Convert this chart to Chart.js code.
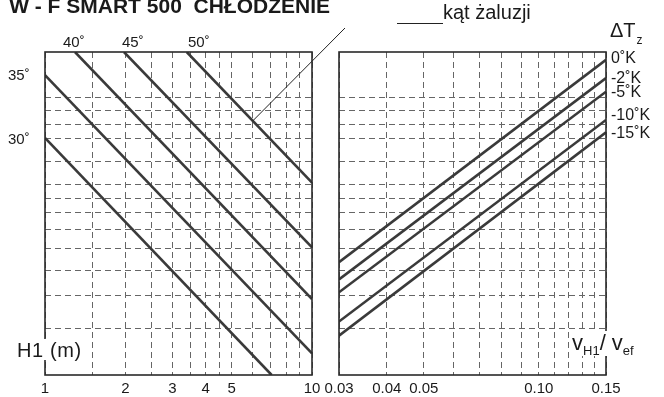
<!DOCTYPE html>
<html>
<head>
<meta charset="utf-8">
<script src="https://cdn.jsdelivr.net/npm/chart.js@4.4.1/dist/chart.umd.min.js"></script>
<style>
  body { margin: 0; background: #fff; }
  #wrap { position: relative; width: 664px; height: 397px; overflow: hidden; background: #fff; }
  #wrap canvas { position: absolute; left: 0; top: 0; }
  .lbl { position: absolute; font-family: "Liberation Sans", Arial, sans-serif; line-height: 1; white-space: nowrap; color: #1a1a1a; }
  .bg { position: absolute; background: #fff; }
</style>
</head>
<body>
<div id="wrap">
  <canvas id="left" width="664" height="397"></canvas>
  <canvas id="right" width="664" height="397"></canvas>

  <div class="lbl" style="right:334px; top:-5px; font-size:21px; font-weight:bold;">W - F SMART 500&nbsp; CHŁODZENIE</div>
  <div class="lbl" style="left:443px; top:2px; font-size:20px;">kąt żaluzji</div>
  <div class="lbl" style="left:610px; top:20px; font-size:20px;">ΔT<span style="font-size:12px; position:relative; top:7px; left:1px;">z</span></div>

  <div class="lbl" style="left:63px; top:34px; font-size:15px;">40˚</div>
  <div class="lbl" style="left:122px; top:34px; font-size:15px;">45˚</div>
  <div class="lbl" style="left:188px; top:34px; font-size:15px;">50˚</div>
  <div class="lbl" style="left:8px; top:67px; font-size:15px;">35˚</div>
  <div class="lbl" style="left:8px; top:131px; font-size:15px;">30˚</div>

  <div class="lbl" style="left:611px; top:50px; font-size:16px;">0˚K</div>
  <div class="lbl" style="left:611px; top:70px; font-size:16px;">-2˚K</div>
  <div class="lbl" style="left:611px; top:84px; font-size:16px;">-5˚K</div>
  <div class="lbl" style="left:611px; top:107px; font-size:16px;">-10˚K</div>
  <div class="lbl" style="left:611px; top:125px; font-size:16px;">-15˚K</div>

  <div class="bg" style="left:15px; top:339px; width:70px; height:21px;"></div>
  <div class="lbl" style="left:17px; top:340px; font-size:20px; letter-spacing:0.6px;">H1 (m)</div>

  <div class="bg" style="left:571px; top:331px; width:70px; height:25px;"></div>
  <div class="lbl" style="left:572px; top:332px; font-size:22px;">v<span style="font-size:13px; position:relative; top:5px;">H1</span>/ v<span style="font-size:13px; position:relative; top:5px;">ef</span></div>
</div>

<script>
// left panel: H1 (m), log scale
var h1Ticks = [1, 1.5, 2, 2.5, 3, 3.5, 4, 4.5, 5, 6, 7, 8, 9, 10];
var h1TickLabels = [1, 2, 3, 4, 5, 10];

// right panel: vH1 / vef, log scale
var ratioTicks = [0.03, 0.04, 0.05, 0.06, 0.07, 0.08, 0.09, 0.10, 0.11, 0.12, 0.13, 0.14, 0.15];
var ratioTickLabels = [0.03, 0.04, 0.05, 0.10, 0.15];

// shared vertical scale (no labels in the original)
var yGrid = [2.95, 3.9, 4.82, 5.79, 6.79, 7.83, 8.82, 9.84, 11.96, 14.5, 16.3, 18.3, 20.4];

// blade angle lines (start / end)
var angles = ['30˚', '35˚', '40˚', '45˚', '50˚'];
var angleH1 = [[1, 7.06], [1, 10], [1.295, 10], [1.976, 10], [3.395, 10]];
var angleVal = [[14.6, 2], [24.7, 2.4], [30, 3.78], [30, 5.83], [30, 10.03]];

// temperature difference lines (start / end)
var temps = ['0˚K', '-2˚K', '-5˚K', '-10˚K', '-15˚K'];
var tempRatio = [[0.03, 0.15], [0.03, 0.15], [0.03, 0.15], [0.03, 0.15], [0.03, 0.15]];
var tempVal = [[5.15, 28.1], [4.46, 24.1], [4.0, 21.5], [3.13, 16.97], [2.78, 15.3]];

var pointerH1 = 6.0;

Chart.defaults.font.family = '"Liberation Sans", Arial, sans-serif';
Chart.defaults.color = '#1a1a1a';

var lineColor = '#3a3a3a';
var gridColor = '#666';

function makeLines(names, xs, ys) {
    return names.map(function(n, i) {
        return {
            label: n,
            data: [{x: xs[i][0], y: ys[i][0]}, {x: xs[i][1], y: ys[i][1]}],
            borderColor: lineColor,
            borderWidth: 2.6,
            pointRadius: 0,
            fill: false
        };
    });
}

function fmtRatio(v) { return v.toFixed(2); }

var frame = {
    id: 'frame',
    afterDraw: function(chart) {
        var a = chart.chartArea, ctx = chart.ctx;
        ctx.save();
        ctx.strokeStyle = '#2a2a2a';
        ctx.lineWidth = 1.6;
        ctx.strokeRect(a.left, a.top, a.right - a.left, a.bottom - a.top);
        ctx.restore();
    }
};

var pointer = {
    id: 'pointer',
    afterDraw: function(chart) {
        // point on the 50 degree line at pointerH1
        var i = 4;
        var x0 = Math.log10(angleH1[i][0]), x1 = Math.log10(angleH1[i][1]);
        var y0 = Math.log10(angleVal[i][0]), y1 = Math.log10(angleVal[i][1]);
        var t = (Math.log10(pointerH1) - x0) / (x1 - x0);
        var yv = Math.pow(10, y0 + t * (y1 - y0));
        var px = chart.scales.x.getPixelForValue(pointerH1);
        var py = chart.scales.y.getPixelForValue(yv);
        var ctx = chart.ctx;
        ctx.save();
        ctx.strokeStyle = '#222';
        ctx.lineWidth = 1;
        ctx.beginPath();
        ctx.moveTo(px, py);
        ctx.lineTo(345, 28);
        ctx.moveTo(397, 23.5);
        ctx.lineTo(443, 23.5);
        ctx.stroke();
        ctx.restore();
    }
};

function yScale() {
    return {
        type: 'logarithmic',
        min: 2,
        max: 30,
        afterBuildTicks: function(s) { s.ticks = yGrid.map(function(v) { return {value: v}; }); },
        ticks: { display: false },
        grid: { color: gridColor, lineWidth: 1, drawTicks: false },
        border: { display: false, dash: [6, 4] },
        afterFit: function(s) { s.width = 0; }
    };
}

new Chart(document.getElementById('left').getContext('2d'), {
    type: 'line',
    data: { datasets: makeLines(angles, angleH1, angleVal) },
    options: {
        responsive: false,
        animation: false,
        layout: { padding: { left: 45, top: 52, right: 352, bottom: 0 } },
        plugins: { legend: { display: false }, tooltip: { enabled: false } },
        scales: {
            x: {
                type: 'logarithmic',
                min: 1,
                max: 10,
                afterBuildTicks: function(s) { s.ticks = h1Ticks.map(function(v) { return {value: v}; }); },
                ticks: {
                    autoSkip: false, maxRotation: 0, padding: 5,
                    font: { size: 15 },
                    callback: function(v) { return h1TickLabels.indexOf(v) >= 0 ? String(v) : ''; }
                },
                grid: { color: gridColor, lineWidth: 1, drawTicks: false },
                border: { display: false, dash: [6, 4] },
                afterFit: function(s) { s.height = 22; }
            },
            y: yScale()
        }
    },
    plugins: [frame, pointer]
});

new Chart(document.getElementById('right').getContext('2d'), {
    type: 'line',
    data: { datasets: makeLines(temps, tempRatio, tempVal) },
    options: {
        responsive: false,
        animation: false,
        layout: { padding: { left: 339, top: 52, right: 58, bottom: 0 } },
        plugins: { legend: { display: false }, tooltip: { enabled: false } },
        scales: {
            x: {
                type: 'logarithmic',
                min: 0.03,
                max: 0.15,
                afterBuildTicks: function(s) { s.ticks = ratioTicks.map(function(v) { return {value: v}; }); },
                ticks: {
                    autoSkip: false, maxRotation: 0, padding: 5,
                    font: { size: 15 },
                    callback: function(v) { return ratioTickLabels.indexOf(v) >= 0 ? fmtRatio(v) : ''; }
                },
                grid: { color: gridColor, lineWidth: 1, drawTicks: false },
                border: { display: false, dash: [6, 4] },
                afterFit: function(s) { s.height = 22; }
            },
            y: yScale()
        }
    },
    plugins: [frame]
});
</script>
</body>
</html>
